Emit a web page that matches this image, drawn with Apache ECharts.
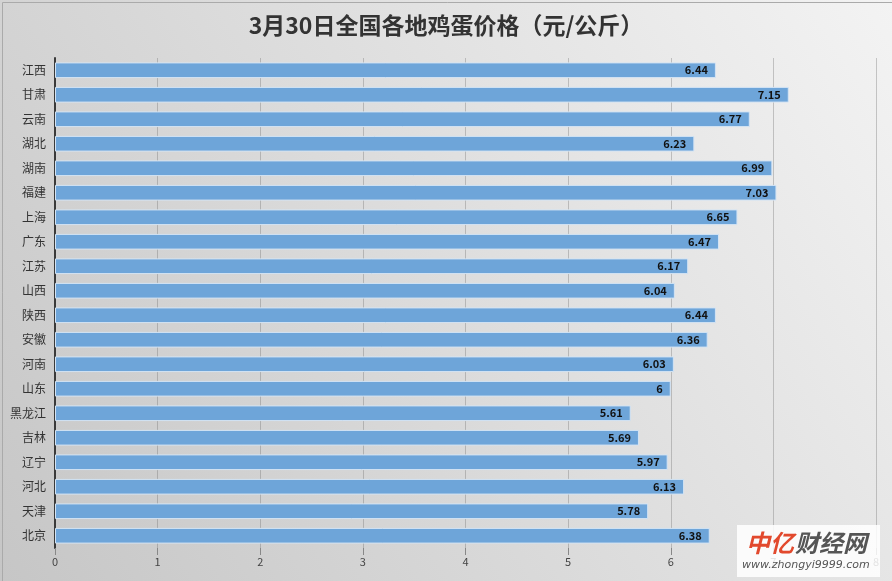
<!DOCTYPE html>
<html><head><meta charset="utf-8">
<script src="https://cdn.jsdelivr.net/npm/echarts@6/dist/echarts.min.js"></script>
<style>html,body{margin:0;padding:0;}#c{width:892px;height:581px;}</style>
</head><body><div id="c"></div>
<script>
const categories = ['江西','甘肃','云南','湖北','湖南','福建','上海','广东','江苏','山西','陕西','安徽','河南','山东','黑龙江','吉林','辽宁','河北','天津','北京'];
const prices = [6.44,7.15,6.77,6.23,6.99,7.03,6.65,6.47,6.17,6.04,6.44,6.36,6.03,6,5.61,5.69,5.97,6.13,5.78,6.38];
const titleText = '3月30日全国各地鸡蛋价格（元/公斤）';
const xMin = 0, xMax = 8, xStep = 1;

const chart = echarts.init(document.getElementById('c'), null, {renderer:'canvas'});
const font = '"Noto Sans CJK SC", "Noto Sans", sans-serif';
chart.setOption({
  animation:false,
  backgroundColor: new echarts.graphic.LinearGradient(0,1,1,0,[{offset:0,color:'#c6c6c6'},{offset:1,color:'#f3f3f3'}]),
  title:{text:titleText,left:'center',top:9,textStyle:{fontFamily:font,fontSize:23,fontWeight:'bold',color:'#333'}},
  grid:{left:55,right:16,top:58,bottom:33,containLabel:false},
  xAxis:{type:'value',min:xMin,max:xMax,interval:xStep,
    axisLine:{show:false},
    axisTick:{show:true,length:7,lineStyle:{color:'#888'}},
    axisLabel:{fontFamily:font,fontSize:11,color:'#444',margin:8},
    splitLine:{show:true,lineStyle:{color:'rgba(110,110,110,0.35)',width:1}}},
  yAxis:{type:'category',data:categories,inverse:true,
    axisLine:{show:true,lineStyle:{color:'#3a3a3a',width:2}},
    axisTick:{show:false},
    axisLabel:{fontFamily:font,fontSize:12,color:'#333',margin:9}},
  series:[{type:'bar',data:prices,barCategoryGap:'36%',
    itemStyle:{color:'#6ea5d9',borderColor:'#d4e4f4',borderWidth:1},
    label:{show:true,position:'insideRight',distance:8,fontFamily:font,fontSize:11,fontWeight:'bold',color:'#111'}}],
  graphic:[
    {type:'rect',left:0,top:0,shape:{width:891,height:580},style:{fill:'none',stroke:'#aaa',lineWidth:1}},
    {type:'rect',left:737,top:525,shape:{width:143,height:52},style:{fill:'rgba(255,255,255,0.85)'},z:10},
    {type:'text',left:746,top:531,style:{text:'中亿',font:'italic bold 24px "Noto Sans CJK SC"',fill:'#e2492d'},z:11},
    {type:'text',left:795,top:531,style:{text:'财经网',font:'italic bold 24px "Noto Sans CJK SC"',fill:'#555'},z:11},
    {type:'text',left:742,top:560,style:{text:'www.zhongyi9999.com',font:'italic 11px "DejaVu Sans"',fill:'#555'},z:11}
  ]
});
</script></body></html>
